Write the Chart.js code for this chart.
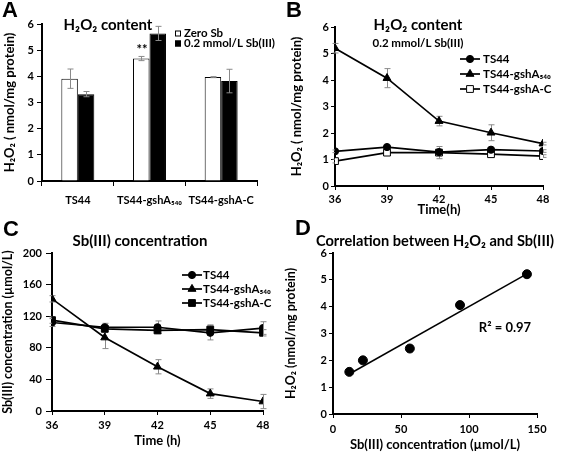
<!DOCTYPE html>
<html>
<head>
<meta charset="utf-8">
<script src="https://cdn.jsdelivr.net/npm/chart.js@4.4.1/dist/chart.umd.min.js"></script>
<style>
  body { margin: 0; background: #fff; width: 567px; height: 456px; position: relative; overflow: hidden; }
  canvas { position: absolute; }
</style>
</head>
<body>
<canvas id="chartA" style="left:0;top:0" width="283" height="228"></canvas>
<canvas id="chartB" style="left:283px;top:0" width="284" height="228"></canvas>
<canvas id="chartC" style="left:0;top:212px" width="283" height="244"></canvas>
<canvas id="chartD" style="left:283px;top:212px" width="284" height="244"></canvas>
<script>
// four panels: H2O2 bars, H2O2 time course, Sb(III) time course, correlation

"use strict";

// panel A - H2O2 content per strain
const strains = ['TS44', 'TS44-gshA₅₄₀', 'TS44-gshA-C'];
const zeroSb = [3.91, 4.68, 3.97];
const zeroSbErr = [0.37, 0.08, 0.02];
const sbTreated = [3.32, 5.64, 3.82];
const sbTreatedErr = [0.1, 0.27, 0.45];
const ticksA = [0, 1, 2, 3, 4, 5, 6];

// panel B - H2O2 over time with 0.2 mmol/L Sb(III)
const hours = [36, 39, 42, 45, 48];
const h2o2TS44 = [1.31, 1.47, 1.28, 1.37, 1.32];
const h2o2TS44Err = [0.05, 0.05, 0.05, 0.05, 0.05];
const h2o2Gsh540 = [5.2, 4.07, 2.45, 2.01, 1.6];
const h2o2Gsh540Err = [0.18, 0.36, 0.18, 0.3, 0.05];
const h2o2GshC = [0.94, 1.26, 1.26, 1.2, 1.13];
const h2o2GshCErr = [0.07, 0.05, 0.23, 0.05, 0.05];
const ticksB = [0, 1, 2, 3, 4, 5, 6];

// panel C - Sb(III) concentration over time
const sbTS44 = [112, 106, 106, 99, 105];
const sbTS44Err = [5, 5, 8, 9, 8];
const sbGsh540 = [142, 93, 56, 22, 12];
const sbGsh540Err = [4, 14, 9, 6, 9];
const sbGshC = [115, 104, 102, 103, 99];
const sbGshCErr = [4, 4, 4, 6, 4];
const ticksC = [0, 40, 80, 120, 160, 200];

// panel D - correlation
const corrSb = [12, 22, 56.5, 93.4, 142.6];
const corrH2o2 = [1.57, 2.0, 2.44, 4.06, 5.21];
const trendSb = [12, 142.6];
const trendH2o2 = [1.49, 5.22];
const ticksDx = [0, 50, 100, 150];
const ticksDy = [0, 1, 2, 3, 4, 5, 6];

const FONT = "Lato, 'Noto Sans', sans-serif";
const LETTER = "bold 22px 'Liberation Sans', Arial, sans-serif";

Chart.defaults.font.family = FONT;
Chart.defaults.font.weight = 'bold';
Chart.defaults.color = '#000';
Chart.defaults.animation = false;

let points = function (xs, ys) { return xs.map((x, i) => ({x: x, y: ys[i]})); };

// error bars, drawn behind or in front of the marks
const errorBars = {
  id: 'errorBars',
  beforeDatasetsDraw(chart, args, opts) { if (opts.behind) this.paint(chart); },
  afterDatasetsDraw(chart, args, opts) { if (!opts.behind) this.paint(chart); },
  paint(chart) {
    const ctx = chart.ctx;
    chart.data.datasets.forEach((ds, i) => {
      if (!ds.errors) return;
      const meta = chart.getDatasetMeta(i);
      const yScale = chart.scales[meta.yAxisID];
      ctx.save();
      ctx.strokeStyle = '#8a8a8a';
      ctx.lineWidth = 1;
      meta.data.forEach((el, j) => {
        const v = ds.data[j];
        const yv = typeof v === 'object' ? v.y : v;
        const e = ds.errors[j];
        const t = yScale.getPixelForValue(yv + e);
        const b = yScale.getPixelForValue(yv - e);
        const x = Math.round(el.x) + 0.5;
        ctx.beginPath();
        ctx.moveTo(x, t); ctx.lineTo(x, b);
        ctx.moveTo(x - 3, t); ctx.lineTo(x + 3, t);
        ctx.moveTo(x - 3, b); ctx.lineTo(x + 3, b);
        ctx.stroke();
      });
      ctx.restore();
    });
  }
};

// free text: panel letters, inner titles, notes
const panelText = {
  id: 'panelText',
  afterDraw(chart, args, opts) {
    const ctx = chart.ctx;
    (opts.items || []).forEach(t => {
      ctx.save();
      ctx.font = t.font;
      ctx.fillStyle = '#000';
      ctx.textAlign = t.align || 'center';
      ctx.textBaseline = 'middle';
      ctx.fillText(t.text, t.x, t.y);
      ctx.restore();
    });
  }
};

// legend placed inside the plot
const sideLegend = {
  id: 'sideLegend',
  afterDraw(chart, args, opts) {
    if (opts.x === undefined) return;
    const ctx = chart.ctx;
    chart.data.datasets.forEach((ds, i) => {
      const y = opts.y + i * opts.gap;
      ctx.save();
      if (opts.box) {
        ctx.fillStyle = ds.backgroundColor;
        ctx.strokeStyle = '#000';
        ctx.lineWidth = 1;
        ctx.fillRect(opts.x, y - 3, 6, 6);
        ctx.strokeRect(opts.x + 0.5, y - 2.5, 5, 5);
      } else {
        ctx.strokeStyle = ds.borderColor;
        ctx.lineWidth = ds.borderWidth;
        ctx.beginPath();
        ctx.moveTo(opts.x, y);
        ctx.lineTo(opts.x + opts.len, y);
        ctx.stroke();
        ctx.fillStyle = ds.pointBackgroundColor;
        ctx.strokeStyle = ds.pointBorderColor;
        ctx.lineWidth = 1;
        Chart.helpers.drawPoint(ctx, {pointStyle: ds.pointStyle, radius: ds.pointRadius, rotation: 0, borderWidth: 1},
          opts.x + opts.len / 2, y);
      }
      ctx.font = opts.font;
      ctx.fillStyle = '#000';
      ctx.textAlign = 'left';
      ctx.textBaseline = 'middle';
      ctx.fillText(ds.label, opts.x + opts.textX, y);
      ctx.restore();
    });
  }
};

let axisY = function (ticks, title, o) {
  return {
    type: 'linear',
    position: 'left',
    min: ticks[0],
    max: ticks[ticks.length - 1],
    afterBuildTicks: s => { s.ticks = ticks.map(v => ({value: v})); },
    ticks: {color: '#000', font: {size: 11, weight: 'bold'}, padding: o.pad},
    grid: {drawOnChartArea: false, color: '#000', tickLength: o.tick, lineWidth: 1},
    border: {color: '#000', width: 2},
    title: {display: true, text: title, color: '#000', font: {size: o.titleSize, weight: 'bold'}, padding: {top: o.titlePad, bottom: 0}},
    afterFit: s => { s.width = o.size; }
  };
};

let axisX = function (ticks, title, o) {
  return {
    type: 'linear',
    position: 'bottom',
    min: ticks[0],
    max: ticks[ticks.length - 1],
    afterBuildTicks: s => { s.ticks = ticks.map(v => ({value: v})); },
    ticks: {color: '#000', font: {size: 11, weight: 'bold'}, padding: o.pad, maxRotation: 0},
    grid: {drawOnChartArea: false, color: '#000', tickLength: 4, lineWidth: 1},
    border: {color: '#000', width: 2},
    title: {display: true, text: title, color: '#000', font: {size: 13, weight: 'bold'}, padding: {top: 0, bottom: o.titlePad}},
    afterFit: s => { s.height = o.size; }
  };
};

let lineSet = function (label, xs, ys, errs, style, radius, fill) {
  return {
    label: label,
    data: points(xs, ys),
    errors: errs,
    borderColor: '#000',
    borderWidth: 1.7,
    pointStyle: style,
    pointRadius: radius,
    pointBackgroundColor: fill,
    pointBorderColor: '#000',
    pointBorderWidth: 1,
    showLine: true,
    tension: 0
  };
};

// ---------- A ----------
new Chart(document.getElementById('chartA').getContext('2d'), {
  type: 'bar',
  data: {
    labels: strains,
    datasets: [
      {label: 'Zero Sb', data: zeroSb, errors: zeroSbErr, backgroundColor: '#fff', borderColor: '#000',
        borderWidth: 1, categoryPercentage: 0.46, barPercentage: 1},
      {label: '0.2 mmol/L Sb(III)', data: sbTreated, errors: sbTreatedErr, backgroundColor: '#000', borderColor: '#000',
        borderWidth: 1, categoryPercentage: 0.46, barPercentage: 1}
    ]
  },
  options: {
    responsive: false,
    layout: {padding: {left: 0, right: 26, top: 24, bottom: 0}},
    plugins: {
      legend: {display: false},
      tooltip: {enabled: false},
      errorBars: {behind: false},
      sideLegend: {x: 175, y: 33.5, gap: 10, box: true, textX: 9, font: 'bold 11.5px ' + FONT},
      panelText: {items: [
        {text: 'A', x: 10, y: 11, font: LETTER},
        {text: 'H₂O₂ content', x: 108, y: 25, font: 'bold 15px ' + FONT},
        {text: '**', x: 142, y: 50, font: 'bold 13px ' + FONT}
      ]}
    },
    scales: {
      x: {
        type: 'category',
        offset: true,
        grid: {offset: true, drawOnChartArea: false, color: '#000', tickLength: 5},
        border: {color: '#000', width: 2},
        ticks: {color: '#000', font: {size: 11, weight: 'bold'}, padding: 8, maxRotation: 0, minRotation: 0, autoSkip: false},
        afterFit: s => { s.height = 47; }
      },
      y: axisY(ticksA, 'H₂O₂ ( nmol/mg protein)', {pad: 3, tick: 5, size: 42, titleSize: 13, titlePad: 2})
    }
  },
  plugins: [errorBars, panelText, sideLegend]
});

// ---------- B ----------
new Chart(document.getElementById('chartB').getContext('2d'), {
  type: 'scatter',
  data: {
    datasets: [
      lineSet('TS44', hours, h2o2TS44, h2o2TS44Err, 'circle', 3.6, '#000'),
      lineSet('TS44-gshA₅₄₀', hours, h2o2Gsh540, h2o2Gsh540Err, 'triangle', 4.6, '#000'),
      lineSet('TS44-gshA-C', hours, h2o2GshC, h2o2GshCErr, 'rect', 4.8, '#fff')
    ]
  },
  options: {
    responsive: false,
    layout: {padding: {left: 0, right: 24, top: 27, bottom: 0}},
    plugins: {
      legend: {display: false},
      tooltip: {enabled: false},
      errorBars: {behind: true},
      sideLegend: {x: 177, y: 59, gap: 15, len: 20, textX: 23, font: 'bold 11.5px ' + FONT},
      panelText: {items: [
        {text: 'B', x: 11, y: 11, font: LETTER},
        {text: 'H₂O₂ content', x: 135, y: 25, font: 'bold 15px ' + FONT},
        {text: '0.2 mmol/L Sb(III)', x: 135, y: 43, font: 'bold 11.5px ' + FONT}
      ]}
    },
    scales: {
      x: axisX(hours, 'Time(h)', {pad: 3, size: 42, titlePad: 10}),
      y: axisY(ticksB, 'H₂O₂ ( nmol/mg protein)', {pad: 2, tick: 4, size: 52, titleSize: 13, titlePad: 6})
    }
  },
  plugins: [errorBars, panelText, sideLegend]
});

// ---------- C ----------
new Chart(document.getElementById('chartC').getContext('2d'), {
  type: 'scatter',
  data: {
    datasets: [
      lineSet('TS44', hours, sbTS44, sbTS44Err, 'circle', 3.6, '#000'),
      lineSet('TS44-gshA₅₄₀', hours, sbGsh540, sbGsh540Err, 'triangle', 4.6, '#000'),
      lineSet('TS44-gshA-C', hours, sbGshC, sbGshCErr, 'rect', 4.8, '#000')
    ]
  },
  options: {
    responsive: false,
    layout: {padding: {left: 0, right: 20, top: 41, bottom: 0}},
    plugins: {
      legend: {display: false},
      tooltip: {enabled: false},
      errorBars: {behind: true},
      sideLegend: {x: 182, y: 63, gap: 14, len: 20, textX: 21, font: 'bold 11.5px ' + FONT},
      panelText: {items: [
        {text: 'C', x: 11, y: 18, font: LETTER},
        {text: 'Sb(III) concentration', x: 140, y: 29, font: 'bold 15px ' + FONT}
      ]}
    },
    scales: {
      x: axisX(hours, 'Time (h)', {pad: 4, size: 45, titlePad: 7}),
      y: axisY(ticksC, 'Sb(III) concentration (µmol/L)', {pad: 4, tick: 6, size: 52, titleSize: 12.5, titlePad: 0})
    }
  },
  plugins: [errorBars, panelText, sideLegend]
});

// ---------- D ----------
new Chart(document.getElementById('chartD').getContext('2d'), {
  type: 'scatter',
  data: {
    datasets: [
      {label: 'samples', data: points(corrSb, corrH2o2), pointRadius: 4.5, pointBackgroundColor: '#000',
        pointBorderColor: '#000', showLine: false},
      {label: 'trend', data: points(trendSb, trendH2o2), pointRadius: 0, borderColor: '#000', borderWidth: 1.5,
        showLine: true}
    ]
  },
  options: {
    responsive: false,
    layout: {padding: {left: 0, right: 30, top: 41, bottom: 0}},
    plugins: {
      legend: {display: false},
      tooltip: {enabled: false},
      panelText: {items: [
        {text: 'D', x: 20, y: 17, font: LETTER},
        {text: 'Correlation between H₂O₂ and Sb(III)', x: 152, y: 29, font: 'bold 14.6px ' + FONT},
        {text: 'R² = 0.97', x: 222, y: 116, font: 'bold 13px ' + FONT}
      ]}
    },
    scales: {
      x: axisX(ticksDx, 'Sb(III) concentration (µmol/L)', {pad: 5, size: 42, titlePad: 3}),
      y: axisY(ticksDy, 'H₂O₂ (nmol/mg protein)', {pad: 2, tick: 4, size: 50, titleSize: 12.5, titlePad: 0})
    }
  },
  plugins: [panelText]
});
</script>
</body>
</html>
